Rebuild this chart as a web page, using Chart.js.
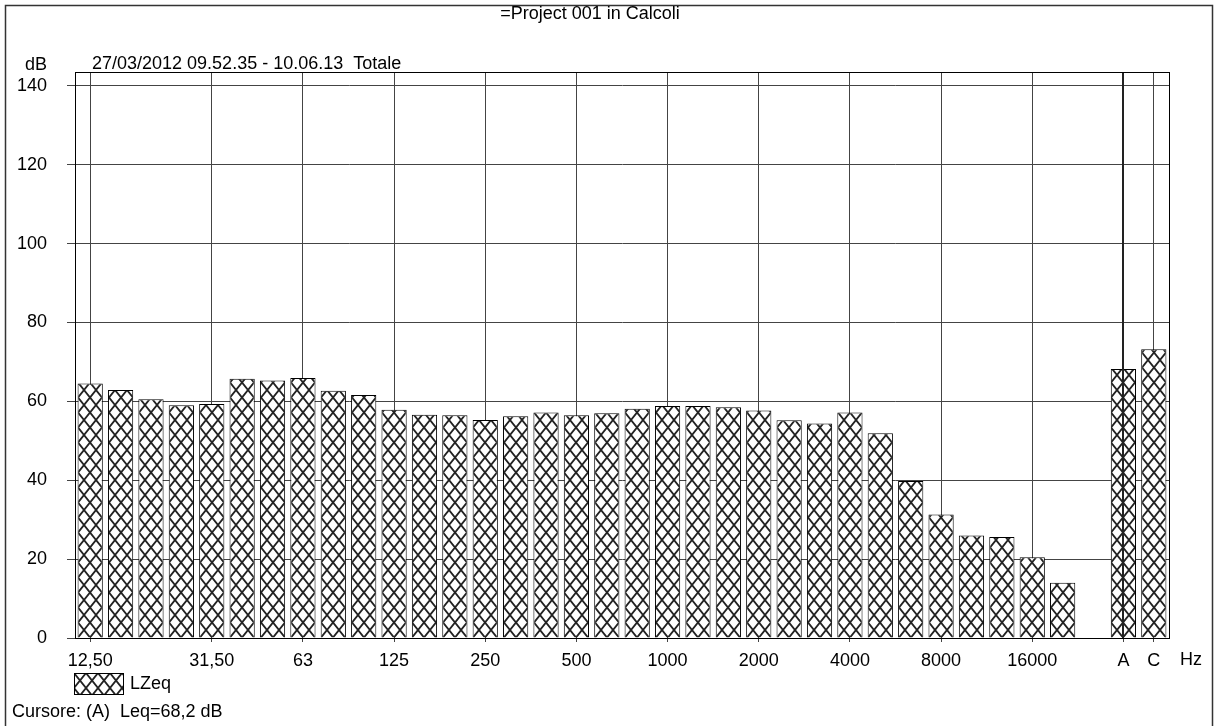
<!DOCTYPE html>
<html>
<head>
<meta charset="utf-8">
<title>LZeq - Project 001</title>
<script src="https://cdn.jsdelivr.net/npm/chart.js@4.4.1/dist/chart.umd.min.js"></script>
<style>
	html, body { margin: 0; padding: 0; background: #fff; }
	#wrap { position: relative; width: 1215px; height: 726px; }
</style>
</head>
<body>
<div id="wrap"><canvas id="spectrum" width="1215" height="726"></canvas></div>
<script>
// 1/3 octave bands, a blank slot, then the A and C weighted totals
const bands = ['12.5','16','20','25','31.5','40','50','63','80','100','125','160','200','250','315','400','500','630','800','1000','1250','1600','2000','2500','3150','4000','5000','6300','8000','10000','12500','16000','20000','','A','C'];
const tickText = ['12,50','','','','31,50','','','63','','','125','','','250','','','500','','','1000','','','2000','','','4000','','','8000','','','16000','','','A','C'];
const lzeq = [64.5,62.9,60.5,59.0,59.3,65.7,65.3,65.9,62.7,61.6,57.9,56.6,56.5,55.3,56.2,57.2,56.5,57.0,58.1,58.8,58.8,58.5,57.7,55.2,54.4,57.2,51.9,39.8,31.3,26.0,25.6,20.5,14.0,null,68.2,73.2];
const yTicks = [0,20,40,60,80,100,120,140];
const yMax = 143.5;
const cursorBand = 'A';

const titleText = '=Project 001 in Calcoli';
const periodText = '27/03/2012 09.52.35 - 10.06.13  Totale';
const unitY = 'dB';
const unitX = 'Hz';
const cursorText = 'Cursore: (A)  Leq=68,2 dB';

(function(){
	const FAMILY = '"Liberation Sans", Arial, sans-serif';
	const FONT = '18px ' + FAMILY;
	const TW = 12, TH = 15;

	const tile = document.createElement('canvas');
	tile.width = TW; tile.height = TH;
	(function(){
		const g = tile.getContext('2d');
		g.fillStyle = '#fff';
		g.fillRect(0, 0, TW, TH);
		g.strokeStyle = '#222';
		g.lineWidth = 1.8;
		g.beginPath();
		g.moveTo(0, 0); g.lineTo(TW, TH);
		g.moveTo(TW, 0); g.lineTo(0, TH);
		g.stroke();
	})();

	const canvas = document.getElementById('spectrum');
	const ctx = canvas.getContext('2d');
	const hatch = ctx.createPattern(tile, 'repeat');

	// hatch anchored on each bar's centre, like the original print
	function barHatch(c){
		const sx = c.chart.scales.x;
		if(!sx || c.dataIndex === undefined) return hatch;
		const cx = Math.round(sx.getPixelForValue(c.dataIndex));
		const p = ctx.createPattern(tile, 'repeat');
		p.setTransform(new DOMMatrix().translate(cx - TW / 2, 0));
		return p;
	}

	const gridColor = c => (tickText[c.index] ? '#444' : 'rgba(0,0,0,0)');

	// frame, header/footer texts, legend and the cursor line
	const decor = {
		id: 'decor',
		beforeDraw(chart){
			const g = chart.ctx;
			g.save();
			g.fillStyle = '#fff';
			g.fillRect(0, 0, chart.width, chart.height);
			g.restore();
		},
		afterDatasetsDraw(chart){
			const g = chart.ctx;
			const a = chart.chartArea;
			const x = Math.round(chart.scales.x.getPixelForValue(bands.indexOf(cursorBand)));
			g.save();
			g.strokeStyle = '#222';
			g.lineWidth = 2;
			g.beginPath();
			g.moveTo(x, a.top);
			g.lineTo(x, a.bottom);
			g.stroke();
			g.restore();
		},
		afterDraw(chart){
			const g = chart.ctx;
			const a = chart.chartArea;
			g.save();
			// plot frame
			g.strokeStyle = '#000';
			g.lineWidth = 1;
			g.strokeRect(Math.round(a.left) + 0.5, Math.round(a.top) + 0.5, Math.round(a.right - a.left), Math.round(a.bottom - a.top));
			// outer frame
			g.strokeStyle = '#333';
			g.lineWidth = 1.5;
			g.beginPath();
			g.moveTo(5.5, 726); g.lineTo(5.5, 5.5); g.lineTo(1212.5, 5.5); g.lineTo(1212.5, 726);
			g.stroke();

			g.fillStyle = '#000';
			g.font = FONT;
			g.textBaseline = 'middle';
			g.textAlign = 'center';
			g.fillText(titleText, 590, 14);
			g.textAlign = 'right';
			g.fillText(unitY, 47, 65);
			g.textAlign = 'left';
			g.fillText(periodText, 92, 64);
			g.fillText(unitX, 1180, 660);
			g.fillText(cursorText, 12, 712);

			// legend
			const ds = chart.data.datasets[0];
			const lp = ctx.createPattern(tile, 'repeat');
			lp.setTransform(new DOMMatrix().translate(74, 673));
			g.fillStyle = lp;
			g.fillRect(74, 673, 49, 21);
			g.strokeStyle = '#000';
			g.lineWidth = 1;
			g.strokeRect(74.5, 673.5, 49, 21);
			g.fillStyle = '#000';
			g.fillText(ds.label, 130, 684);
			g.restore();
		}
	};

	Chart.defaults.font.family = FAMILY;
	Chart.defaults.font.size = 18;
	Chart.defaults.color = '#000';

	new Chart(ctx, {
		type: 'bar',
		data: {
			labels: bands,
			datasets: [{
				label: 'LZeq',
				data: lzeq,
				backgroundColor: barHatch,
				borderColor: '#000',
				borderWidth: 1,
				barPercentage: 0.83,
				categoryPercentage: 1
			}]
		},
		options: {
			responsive: false,
			animation: false,
			devicePixelRatio: 1,
			layout: { padding: { left: 0, top: 72, right: 46, bottom: 0 } },
			plugins: { legend: { display: false }, tooltip: { enabled: false } },
			scales: {
				x: {
					offset: true,
					grid: { offset: false, color: gridColor, tickColor: gridColor, tickLength: 4, lineWidth: 1 },
					border: { color: '#000' },
					ticks: {
						autoSkip: false, maxRotation: 0, minRotation: 0, padding: 8,
						callback: (v, i) => tickText[i]
					},
					afterFit: s => { s.height = 88; }
				},
				y: {
					min: 0,
					max: yMax,
					afterBuildTicks: s => { s.ticks = yTicks.map(v => ({ value: v })); },
					grid: { color: '#444', tickColor: '#444', tickLength: 8 },
					border: { color: '#000' },
					ticks: { padding: 20 },
					afterFit: s => { s.width = 75; }
				}
			}
		},
		plugins: [decor]
	});
})();
</script>
</body>
</html>
